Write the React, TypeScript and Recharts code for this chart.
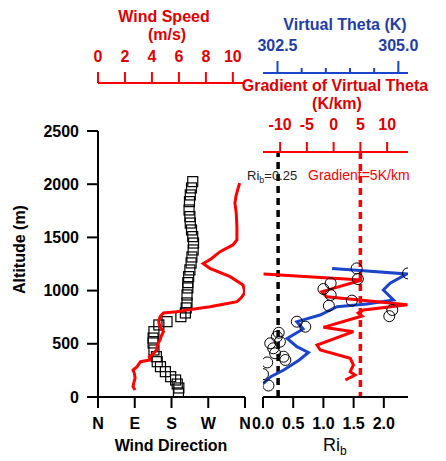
import { ScatterChart, Scatter, XAxis, YAxis, ReferenceLine } from 'recharts';

// altitude (m) of each wind direction sample and the direction (deg)
const dirAlt = [38, 85, 122, 160, 191, 238, 285, 332, 379, 442, 508, 554, 614, 677, 708, 755, 790, 837, 884, 959, 1025, 1075, 1131, 1194, 1260, 1316, 1382, 1447, 1507, 1570, 1635, 1695, 1758, 1836, 1899, 1965, 2024];
const dirDeg = [197, 198, 194, 190, 178, 165, 153, 145, 143, 137, 135, 135, 137, 149, 169, 203, 214, 216, 218, 218, 220, 220, 222, 225, 228, 230, 233, 234, 232, 229, 226, 225, 223, 224, 226, 229, 232];

// wind speed profile (m/s)
const spdAlt = [66, 97, 130, 176, 220, 254, 285, 332, 348, 379, 395, 442, 490, 536, 575, 614, 660, 708, 755, 790, 802, 818, 849, 870, 896, 930, 975, 1006, 1053, 1131, 1209, 1253, 1300, 1366, 1429, 1476, 1600, 1730, 1823, 1900, 2010];
const spdVal = [2.75, 2.6, 2.65, 2.75, 2.7, 2.6, 2.9, 3.15, 3.85, 3.8, 4.0, 4.35, 4.4, 4.6, 4.7, 4.85, 4.6, 4.5, 4.6, 4.85, 5.85, 6.6, 8.3, 9.2, 10.3, 10.6, 10.85, 10.85, 10.75, 9.8, 8.3, 7.8, 8.4, 9.05, 10.0, 10.3, 10.3, 10.25, 10.15, 10.25, 10.5];

// virtual potential temperature (K)
const thetaAlt = [129, 191, 254, 348, 418, 473, 551, 640, 708, 771, 849, 874, 912, 1006, 1069, 1156, 1188, 1209];
const thetaVal = [302.21, 302.36, 302.63, 302.95, 303.14, 302.9, 302.7, 303.03, 302.9, 303.38, 303.73, 304.35, 304.9, 304.69, 304.83, 305.17, 304.21, 303.63];

// gradient of virtual theta (K/km)
const gradAlt = [160, 207, 238, 301, 364, 442, 489, 614, 655, 761, 790, 818, 868, 942, 990, 1100, 1156];
const gradVal = [2.2, 4.0, 3.1, 3.7, 3.1, -2.5, -3.1, 3.7, -1.9, 5.3, 4.6, 5.6, 13.8, -1.3, -2.2, 5.3, -13.1];

// bulk Richardson number
const riAlt = [108, 215, 325, 348, 379, 411, 458, 505, 520, 567, 604, 661, 708, 760, 818, 858, 906, 959, 1015, 1069, 1109, 1162, 1209];
const riVal = [0.09, 0.0, 0.07, 0.37, 0.34, 0.2, 0.17, 0.12, 0.28, 0.23, 0.26, 0.7, 0.56, 2.09, 2.14, 1.09, 1.47, 1.12, 1.0, 1.12, 1.57, 2.4, 1.55];

const altTicks = [0, 500, 1000, 1500, 2000, 2500];
const dirTicks = [0, 90, 180, 270, 360];
const dirLabels = ['N', 'E', 'S', 'W', 'N'];
const spdTicks = [0, 2, 4, 6, 8, 10];
const thetaTicks = [302.5, 303, 303.5, 304, 304.5, 305];
const thetaMajor = [302.5, 305];
const gradTicks = [-10, -5, 0, 5, 10];
const riTicks = [0, 0.5, 1, 1.5, 2];
const riCritical = 0.25;
const gradCritical = 5;

const pts = (ys: number[], xs: number[]) => ys.map((y, i) => ({ x: xs[i], y }));

const RED = '#ff0000';
const RED_TXT = '#e00000';
const BLUE = '#1a44cc';
const BLUE_TXT = '#1f3da8';
const FONT = '"Liberation Sans", Arial, sans-serif';

const boldTick = (fill: string) => ({ fill, fontSize: 16, fontWeight: 'bold' as const, fontFamily: FONT });

const Square = (p: any) => (
  <rect x={p.cx - 5} y={p.cy - 5} width={10} height={10} fill="none" stroke="#000" strokeWidth={1.2} />
);
const Ring = (p: any) => (
  <circle cx={p.cx} cy={p.cy} r={5.5} fill="none" stroke="#000" strokeWidth={1} />
);
const NoDot = () => <g />;

const ThetaTick = (p: any) => {
  const { x, y, payload } = p;
  const major = thetaMajor.includes(payload.value);
  return (
    <g>
      <line x1={x} x2={x} y1={y + 22 - (major ? 12 : 5)} y2={y + 22} stroke={BLUE} strokeWidth={2} />
      {major && (
        <text x={x} y={y} textAnchor="middle" fill={BLUE_TXT} fontSize={16} fontWeight="bold" fontFamily={FONT}>
          {payload.value.toFixed(1)}
        </text>
      )}
    </g>
  );
};

function LeftPanel() {
  return (
    <ScatterChart width={250} height={461} margin={{ top: 0, right: 5, bottom: 0, left: 0 }}>
      <XAxis xAxisId="dir" dataKey="x" type="number" domain={[0, 360]} ticks={dirTicks} interval={0}
        tickFormatter={(v: number) => dirLabels[dirTicks.indexOf(v)]} height={64} tickSize={11} tickMargin={10}
        stroke="#000" strokeWidth={2} tick={boldTick('#000')} allowDataOverflow />
      <XAxis xAxisId="spd" dataKey="x" type="number" orientation="top" domain={[0, 10.9]} ticks={spdTicks} interval={0}
        height={83} tickSize={11} tickMargin={10} stroke={RED} strokeWidth={2} tick={boldTick(RED_TXT)} allowDataOverflow />
      <YAxis yAxisId="alt" dataKey="y" type="number" domain={[0, 2951]} ticks={altTicks} interval={0} width={98}
        axisLine={false} tickSize={11} tickMargin={8} stroke="#000" strokeWidth={2} tick={boldTick('#000')} allowDataOverflow />
      <ReferenceLine xAxisId="dir" yAxisId="alt" segment={[{ x: 0, y: 0 }, { x: 0, y: altTicks[altTicks.length - 1] }]}
        stroke="#000" strokeWidth={2} ifOverflow="visible" />
      <Scatter xAxisId="dir" yAxisId="alt" data={pts(dirAlt, dirDeg)} shape={Square} isAnimationActive={false} />
      <Scatter xAxisId="spd" yAxisId="alt" data={pts(spdAlt, spdVal)} shape={NoDot}
        line={{ stroke: RED, strokeWidth: 3 }} isAnimationActive={false} />
    </ScatterChart>
  );
}

function RightPanel() {
  return (
    <ScatterChart width={196} height={461} margin={{ top: 0, right: 38, bottom: 0, left: 13 }}>
      <XAxis xAxisId="ri" dataKey="x" type="number" domain={[0, 2.4]} ticks={riTicks} interval={0}
        tickFormatter={(v: number) => v.toFixed(1)} height={64} tickSize={11} tickMargin={10}
        stroke="#000" strokeWidth={2} tick={boldTick('#000')} allowDataOverflow />
      <XAxis xAxisId="grad" dataKey="x" type="number" orientation="top" domain={[-13.2, 13.9]} ticks={gradTicks} interval={0}
        height={79} tickSize={10} tickMargin={12} stroke={RED} strokeWidth={2} tick={boldTick(RED_TXT)} allowDataOverflow />
      <XAxis xAxisId="theta" dataKey="x" type="number" orientation="top" domain={[302.2, 305.2]} ticks={thetaTicks} interval={0}
        height={73} tickSize={12} tickMargin={10} tickLine={false} stroke={BLUE} strokeWidth={2} tick={<ThetaTick />} allowDataOverflow />
      <YAxis yAxisId="alt" dataKey="y" type="number" domain={[0, 2303]} hide allowDataOverflow />
      <Scatter xAxisId="theta" yAxisId="alt" data={pts(thetaAlt, thetaVal)} shape={NoDot}
        line={{ stroke: BLUE, strokeWidth: 3 }} isAnimationActive={false} />
      <Scatter xAxisId="grad" yAxisId="alt" data={pts(gradAlt, gradVal)} shape={NoDot}
        line={{ stroke: RED, strokeWidth: 3 }} isAnimationActive={false} />
      <ReferenceLine xAxisId="ri" yAxisId="alt" x={riCritical} stroke="#000" strokeWidth={3.5} strokeDasharray="7 5" />
      <ReferenceLine xAxisId="grad" yAxisId="alt" x={gradCritical} stroke={RED} strokeWidth={3.5} strokeDasharray="7 5" />
      <Scatter xAxisId="ri" yAxisId="alt" data={pts(riAlt, riVal)} shape={Ring} isAnimationActive={false} />
    </ScatterChart>
  );
}

export default function App() {
  const t = { fontFamily: FONT, fontWeight: 'bold' as const, fontSize: 16 };
  return (
    <div style={{ position: 'absolute', left: 0, top: 0, width: 446, height: 461, background: '#fff' }}>
      <div style={{ position: 'absolute', left: 0, top: 0 }}><LeftPanel /></div>
      <div style={{ position: 'absolute', left: 250, top: 0 }}><RightPanel /></div>
      <svg width={446} height={461} style={{ position: 'absolute', left: 0, top: 0, pointerEvents: 'none' }}>
        <text x={164} y={22} textAnchor="middle" fill={RED_TXT} {...t}>Wind Speed</text>
        <text x={167} y={40} textAnchor="middle" fill={RED_TXT} {...t}>(m/s)</text>
        <text x={345} y={30} textAnchor="middle" fill={BLUE_TXT} {...t}>Virtual Theta (K)</text>
        <text x={335} y={91} textAnchor="middle" fill={RED_TXT} {...t}>Gradient of Virtual Theta</text>
        <text x={337} y={109} textAnchor="middle" fill={RED_TXT} {...t}>(K/km)</text>
        <text x={171} y={451} textAnchor="middle" fill="#000" {...t}>Wind Direction</text>
        <text transform="translate(25,249.5) rotate(-90)" textAnchor="middle" fill="#000" {...t}>Altitude (m)</text>
        <text x={323} y={451} fill="#000" fontFamily={FONT} fontSize={18}>
          Ri<tspan fontSize={12} dy={4}>b</tspan>
        </text>
        <text x={247} y={180} fill="#222" fontFamily={FONT} fontSize={13}>
          Ri<tspan fontSize={9} dy={3}>b</tspan><tspan dy={-3}>=0.25</tspan>
        </text>
        <text x={308} y={180} fill={RED} fontFamily={FONT} fontSize={14}>Gradient=5K/km</text>
      </svg>
    </div>
  );
}
